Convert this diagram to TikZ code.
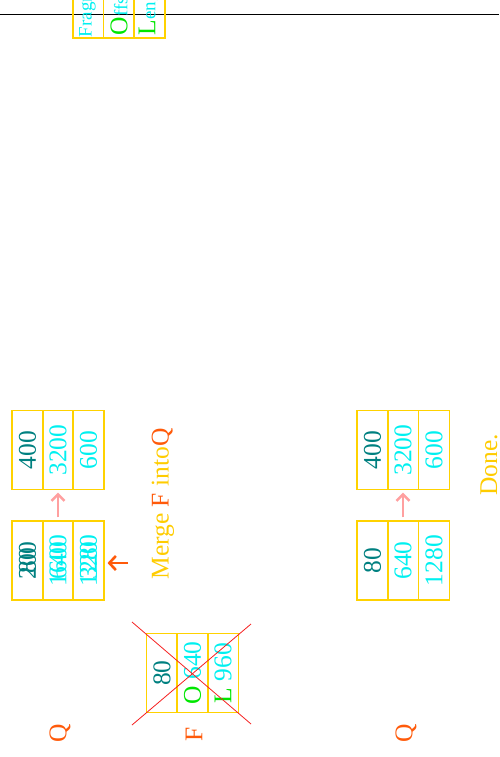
\documentclass[tikz,border=0pt]{standalone}
\usepackage{fontspec}
\setmainfont{Liberation Serif}
\usetikzlibrary{arrows.meta}

\definecolor{cellgold}{RGB}{255,210,0}
\definecolor{txtgold}{RGB}{255,204,0}
\definecolor{idteal}{RGB}{0,128,128}
\definecolor{offcyan}{RGB}{0,240,240}
\definecolor{labgreen}{RGB}{0,230,0}
\definecolor{labred}{RGB}{255,90,10}
\definecolor{arrpink}{RGB}{255,160,160}
\definecolor{crossred}{RGB}{245,30,30}

\begin{document}
\begin{tikzpicture}[x=1pt, y=1pt,
  big/.style={font={\fontsize{25.5}{30}\selectfont}},
  small/.style={font={\fontsize{19}{22}\selectfont}},
  cell/.style={big, draw=cellgold, line width=1.4pt, rotate=90, minimum width=79pt,
               minimum height=30.7pt, inner sep=0pt},
  idc/.style={cell, text=idteal}, offc/.style={cell, text=offcyan},
  txt/.style={big, rotate=90, inner sep=0pt},
  lab/.style={txt, text=labred},
  parr/.style={arrpink, line width=2.4pt, -{Straight Barb[length=6.5pt, width=13pt]},
               shorten >=2.5pt, shorten <=3pt},
  oarr/.style={labred, line width=2.6pt, -{Straight Barb[length=6.5pt, width=14pt]},
               shorten >=3pt}
]
\useasboundingbox (0,0) rectangle (499,-757);
\clip (0,0) rectangle (499,-757);

% legend, cut by the page edge
\draw[line width=1pt] (0,-15) -- (499,-15);
\node[cell] (lg1) at (88.2,1.5) {};
\node[cell] (lg2) at (118.8,1.5) {};
\node[cell] (lg3) at (149.5,1.5) {};
\node[small, rotate=90, anchor=west, inner sep=0pt, text=offcyan] (lgt1) at (87.5,-37.5)
  {Fragment};
\node[txt, anchor=west, text=offcyan] (lgt2) at (119,-35.5)
  {{\color{labgreen}O}{\fontsize{19}{22}\selectfont ffset}};
\node[txt, anchor=west, text=offcyan] (lgt3) at (149,-35.5)
  {{\color{labgreen}L}{\fontsize{19}{22}\selectfont ength}};

% Q before the merge
\node[idc]  (qa1) at (27.5,-450) {400};
\node[offc] (qa2) at (58,-450)   {3200};
\node[offc] (qa3) at (88.5,-450) {600};
\node[idc]  (qb1) at (27.5,-560.5) {200};
\node[offc] (qb2) at (58,-560.5)   {1600};
\node[offc] (qb3) at (88.5,-560.5) {320};
\node[txt, text=idteal]  (qb1n) at (qb1) {80};
\node[txt, text=offcyan] (qb2n) at (qb2) {640};
\node[txt, text=offcyan] (qb3n) at (qb3) {1280};
\draw[parr] (qb2.east) -- (qa2.west);
\coordinate (mrgtail) at (128,-563);
\draw[oarr] (mrgtail) -- ([yshift=-2.5pt]qb3.south);
\node[lab] (lq1) at (60,-733) {Q};

% fragment F, crossed out
\node[idc]  (f1) at (162,-673)   {80};
\node[offc] (f2) at (192.5,-673) {{\color{labgreen}O} 640};
\node[offc] (f3) at (223,-673)   {{\color{labgreen}L} 960};
\draw[crossred, line width=0.8pt] (132,-622) -- (251,-724);
\draw[crossred, line width=0.8pt] (132,-725) -- (251,-624);
\node[lab] (lf) at (194,-734) {F};

\node[txt, text=txtgold] (mrg) at (163,-504)
  {Merge {\color{labred}F} into{\color{labred}Q}};

% Q after the merge
\node[idc]  (qc1) at (372.5,-450) {400};
\node[offc] (qc2) at (403,-450)   {3200};
\node[offc] (qc3) at (434,-450)   {600};
\node[idc]  (qd1) at (372.5,-560.5) {80};
\node[offc] (qd2) at (403,-560.5)   {640};
\node[offc] (qd3) at (434,-560.5)   {1280};
\draw[parr] (qd2.east) -- (qc2.west);
\node[lab] (lq2) at (406,-733) {Q};

\node[txt, text=txtgold] (done) at (489,-465) {Done.};
\end{tikzpicture}
\end{document}
